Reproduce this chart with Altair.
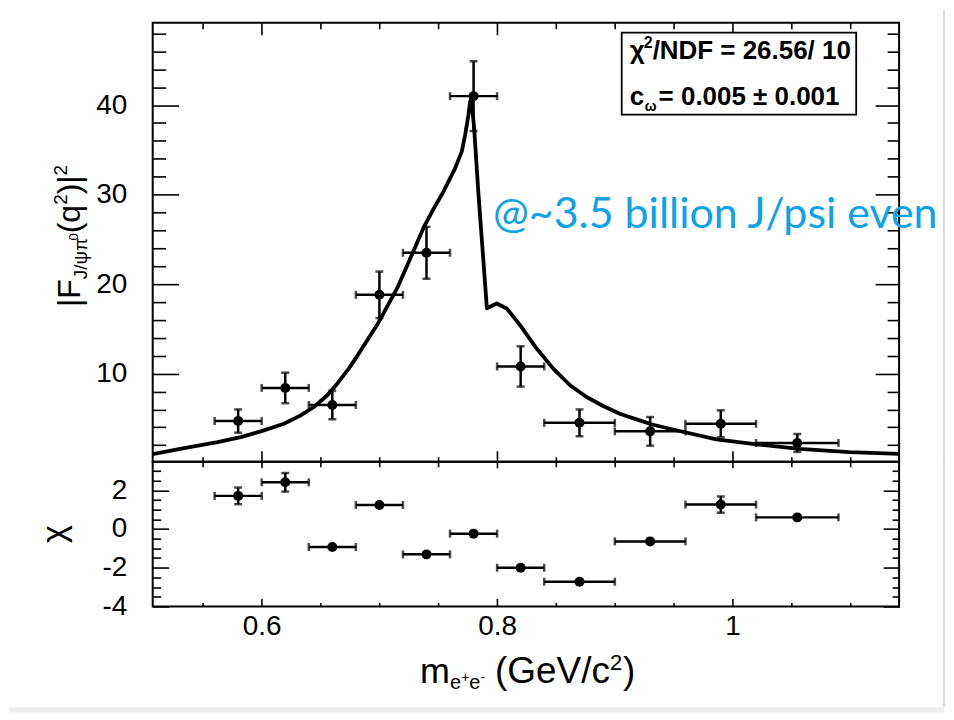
import altair as alt
import pandas as pd

# ---------------- data ----------------
bin_center = [0.58, 0.62, 0.66, 0.70, 0.74, 0.78, 0.82, 0.87, 0.93, 0.99, 1.055]
bin_low = [0.56, 0.60, 0.64, 0.68, 0.72, 0.76, 0.80, 0.84, 0.90, 0.96, 1.02]
bin_high = [0.60, 0.64, 0.68, 0.72, 0.76, 0.80, 0.84, 0.90, 0.96, 1.02, 1.09]
ff2 = [4.7, 8.4, 6.5, 18.8, 23.5, 41.0, 10.8, 4.5, 3.55, 4.4, 2.25]
ff2_err = [1.3, 1.7, 1.6, 2.6, 2.9, 3.9, 2.25, 1.5, 1.6, 1.5, 1.0]
chi = [1.71, 2.41, -0.93, 1.24, -1.31, -0.24, -2.0, -2.72, -0.64, 1.26, 0.60]
chi_err = [0.43, 0.48, 0.0, 0.0, 0.0, 0.0, 0.0, 0.0, 0.0, 0.42, 0.0]

fit_m = [0.5074, 0.5342, 0.5625, 0.5822, 0.5992, 0.6189, 0.6331, 0.6443, 0.6557,
         0.6642, 0.6740, 0.6797, 0.698, 0.715, 0.7263, 0.7375, 0.746, 0.7545,
         0.7644, 0.770, 0.7729, 0.7757, 0.7771, 0.778, 0.7805, 0.7842, 0.7884,
         0.7913, 0.7997, 0.8082, 0.8195, 0.8336, 0.8477, 0.8619, 0.876, 0.8901,
         0.9042, 0.9184, 0.9325, 0.9466, 0.9862, 1.0172, 1.0568, 1.0992, 1.1415]
fit_f = [1.0, 1.68, 2.35, 2.91, 3.55, 4.4, 5.34, 6.27, 7.58,
         8.88, 10.56, 11.68, 15.42, 19.52, 22.88, 26.3, 28.4, 30.35,
         32.96, 34.83, 36.7, 38.94, 40.4, 40.8, 37.4, 29.98, 22.5,
         17.3, 17.84, 17.28, 15.42, 12.8, 10.56, 8.7, 7.39, 6.38,
         5.52, 4.89, 4.29, 3.84, 2.65, 2.16, 1.6, 1.23, 1.04]

x_major = [0.6, 0.8, 1.0]
x_minor = [0.55, 0.65, 0.7, 0.75, 0.85, 0.9, 0.95, 1.05, 1.1]
f_major = [10, 20, 30, 40]
f_minor = [2, 4, 6, 8, 12, 14, 16, 18, 22, 24, 26, 28, 32, 34, 36, 38, 42, 44, 46, 48]
c_major = [-4, -2, 0, 2]
c_minor = [-3.5, -3, -2.5, -1.5, -1, -0.5, 0.5, 1, 1.5, 2.5, 3]

x_domain = [0.5074, 1.1415]
f_domain = [0.15, 49.2]
c_domain = [-4.0, 3.47]

chi2_text = "/NDF = 26.56/ 10"
cw_text = "= 0.005 ± 0.001"
note_text = "@~3.5 billion J/psi events"

# ---------------- tables ----------------
pts = pd.DataFrame({
    "m": bin_center, "mlo": bin_low, "mhi": bin_high,
    "f": ff2,
    "flo": [a - b for a, b in zip(ff2, ff2_err)],
    "fhi": [a + b for a, b in zip(ff2, ff2_err)],
    "c": chi,
    "clo": [a - b for a, b in zip(chi, chi_err)],
    "chi_": [a + b for a, b in zip(chi, chi_err)],
})
fit = pd.DataFrame({"m": fit_m, "f": fit_f})
one = pd.DataFrame({"k": [0]})

W = 748
H_TOP = 440
H_BOT = 145
LABEL_FONT = "Liberation Sans"

AR = {'|': 0.26, 'F': 0.611, 'J': 0.5, '/': 0.278, 'ψ': 0.70, 'π': 0.57,
      '0': 0.556, '2': 0.556, '(': 0.333, ')': 0.333, 'q': 0.556, 'm': 0.833,
      'e': 0.556, '+': 0.584, '-': 0.333, ' ': 0.278, 'G': 0.778, 'V': 0.667,
      'c': 0.5}


def tick_axis(orient, values, size, offset):
    return alt.Axis(orient=orient, values=values, tickSize=size, offset=offset,
                    labels=False, domain=False, grid=False, ticks=True,
                    tickColor="black", tickWidth=1.6, title=None)


def label_axis(orient, values, pad):
    return alt.Axis(orient=orient, values=values, ticks=False, labels=True,
                    domain=False, grid=False, title=None,
                    labelFont=LABEL_FONT, labelFontSize=28, labelColor="black",
                    labelPadding=pad, labelExpr="'' + datum.value",
                    labelFlush=False, labelOverlap=False)


def piece(text, x, y, size, dx=0, dy=0, angle=0, font=LABEL_FONT,
          weight="normal", color="black", align="left", **kw):
    return alt.Chart(one).mark_text(
        text=text, font=font, fontSize=size, fontWeight=weight, color=color,
        align=align, baseline="alphabetic", angle=angle, dx=dx, dy=dy, **kw
    ).encode(x=alt.value(x), y=alt.value(y))


def seq(parts, x, y, angle=0):
    """parts: (text, font size, baseline shift, extra gap before)"""
    out, adv = [], 0.0
    for text, size, dy, gap in parts:
        adv += gap
        out.append(piece(text, x, y, size, dx=round(adv, 1), dy=dy, angle=angle))
        adv += sum(AR.get(ch, 0.55) for ch in text) * size
    return out


def panel(yf, ylo, yhi, ydom, xaxes, yaxes, with_fit):
    xs = alt.Scale(domain=x_domain, nice=False, zero=False)
    ys = alt.Scale(domain=ydom, nice=False, zero=False)

    def ax(lst, i):
        return lst[i] if i < len(lst) else None

    base = alt.Chart(pts)
    L = [
        base.mark_rule(color="black", strokeWidth=2.5).encode(
            x=alt.X("mlo:Q", scale=xs, axis=ax(xaxes, 0)), x2="mhi:Q",
            y=alt.Y(f"{yf}:Q", scale=ys, axis=ax(yaxes, 0))),
        base.mark_rule(color="black", strokeWidth=2.5).encode(
            x=alt.X("m:Q", scale=xs, axis=ax(xaxes, 1)),
            y=alt.Y(f"{ylo}:Q", scale=ys, axis=ax(yaxes, 1)), y2=f"{yhi}:Q"),
        base.transform_fold(["mlo", "mhi"], as_=["side", "mv"]).mark_tick(
            orient="vertical", size=8, thickness=2.5, color="black").encode(
            x=alt.X("mv:Q", scale=xs, axis=ax(xaxes, 2)),
            y=alt.Y(f"{yf}:Q", scale=ys, axis=ax(yaxes, 2))),
        base.transform_fold([ylo, yhi], as_=["side", "yv"]).mark_tick(
            orient="horizontal", size=8, thickness=2.5, color="black").encode(
            x=alt.X("m:Q", scale=xs, axis=ax(xaxes, 3)),
            y=alt.Y("yv:Q", scale=ys, axis=ax(yaxes, 3))),
        base.mark_circle(size=100, color="black", opacity=1).encode(
            x=alt.X("m:Q", scale=xs, axis=ax(xaxes, 4)),
            y=alt.Y(f"{yf}:Q", scale=ys, axis=ax(yaxes, 4))),
    ]
    if with_fit:
        L.append(alt.Chart(fit).mark_line(color="black", strokeWidth=3.8,
                                          strokeJoin="round").encode(
            x=alt.X("m:Q", scale=xs, axis=ax(xaxes, 5)),
            y=alt.Y("f:Q", scale=ys, axis=ax(yaxes, 5))))
    return L


# ---------------- upper panel ----------------
up_x = [tick_axis("bottom", x_major, 12, -H_TOP), tick_axis("bottom", x_minor, 6, -H_TOP),
        tick_axis("top", x_major, 11, -H_TOP), tick_axis("top", x_minor, 5, -H_TOP)]
up_y = [label_axis("left", f_major, 26),
        tick_axis("right", f_major, 26, -W), tick_axis("right", f_minor, 13, -W),
        tick_axis("left", f_major, 24, -W), tick_axis("left", f_minor, 12, -W)]

upper_layers = panel("f", "flo", "fhi", f_domain, up_x, up_y, True)

# statistics box
upper_layers.append(alt.Chart(one).mark_rect(fill="white", stroke="black", strokeWidth=1.8).encode(
    x=alt.value(470), x2=alt.value(705), y=alt.value(10), y2=alt.value(92)))
LB = "Liberation Sans"
upper_layers += [
    piece("χ", 478, 36, 26, font=LB, weight="bold"),
    piece("2", 478, 36, 16, dx=14, dy=-11, font=LB, weight="bold"),
    piece(chi2_text, 478, 36, 26, dx=23, font=LB, weight="bold"),
    piece("c", 478, 82, 26, font=LB, weight="bold"),
    piece("ω", 478, 82, 14, dx=15, dy=6, font=LB, weight="bold"),
    piece(cw_text, 478, 82, 26, dx=29, font=LB, weight="bold"),
]
# blue annotation (cut off at the slide border as in the reference)
upper_layers.append(piece(note_text, 341, 206, 43, font="Lato", color="#0ea2e6",
                          limit=452, ellipsis="\u200b"))
# y title
upper_layers += seq([("|F", 32, 0, 0), ("J/ψπ", 19, 7, 0), ("0", 13, -2, 0), ("(q", 32, 0, 0),
                     ("2", 19, -13, 0), (")|", 32, 0, 0), ("2", 19, -13, 0)],
                    -73, 285, angle=270)
# slide border line and invisible layout anchor
upper_layers.append(alt.Chart(one).mark_rule(color="#cfcfcf", strokeWidth=1.5).encode(
    x=alt.value(793), y=alt.value(-12), y2=alt.value(H_TOP)))
upper_layers.append(alt.Chart(one).mark_rule(opacity=0, strokeOpacity=0).encode(
    x=alt.value(-144), y=alt.value(0), y2=alt.value(H_TOP)))

upper = alt.layer(*upper_layers).resolve_axis(x="independent", y="independent").properties(
    width=W, height=H_TOP)

# ---------------- lower panel ----------------
lo_x = [label_axis("bottom", x_major, 6),
        tick_axis("top", x_major, 8, -H_BOT), tick_axis("top", x_minor, 4, -H_BOT),
        tick_axis("bottom", x_major, 6, -H_BOT), tick_axis("bottom", x_minor, 5, -H_BOT)]
lo_y = [label_axis("left", c_major, 26),
        tick_axis("right", c_major, 16, -W), tick_axis("right", c_minor, 8, -W),
        tick_axis("left", c_major, 16, -W), tick_axis("left", c_minor, 7, -W)]

lower_layers = panel("c", "clo", "chi_", c_domain, lo_x, lo_y, False)
lower_layers.append(piece("χ", -88, 72.5, 34, angle=270, align="center"))
lower_layers += seq([("m", 36, 0, 0), ("e", 20, 6, 0), ("+", 14, -1, 0), ("e", 20, 6, 0),
                     ("-", 14, -1, 0), ("(GeV/c", 37, 0, 10), ("2", 22, -13, 0),
                     (")", 37, 0, 1)], 268, 222)
lower_layers.append(alt.Chart(one).mark_rule(color="#cfcfcf", strokeWidth=1.5).encode(
    x=alt.value(793), y=alt.value(0), y2=alt.value(246)))
lower_layers.append(alt.Chart(one).mark_rect(fill="#efefef").encode(
    x=alt.value(-144), x2=alt.value(793), y=alt.value(246), y2=alt.value(251)))

lower = alt.layer(*lower_layers).resolve_axis(x="independent", y="independent").properties(
    width=W, height=H_BOT)

chart = alt.vconcat(upper, lower, spacing=0, bounds="flush").properties(
    padding={"left": 0, "top": 0, "right": 0, "bottom": 0},
    background="white",
).configure_view(stroke="black", strokeWidth=2)

chart.save("out.html", embed_options={"renderer": "svg", "actions": False})
